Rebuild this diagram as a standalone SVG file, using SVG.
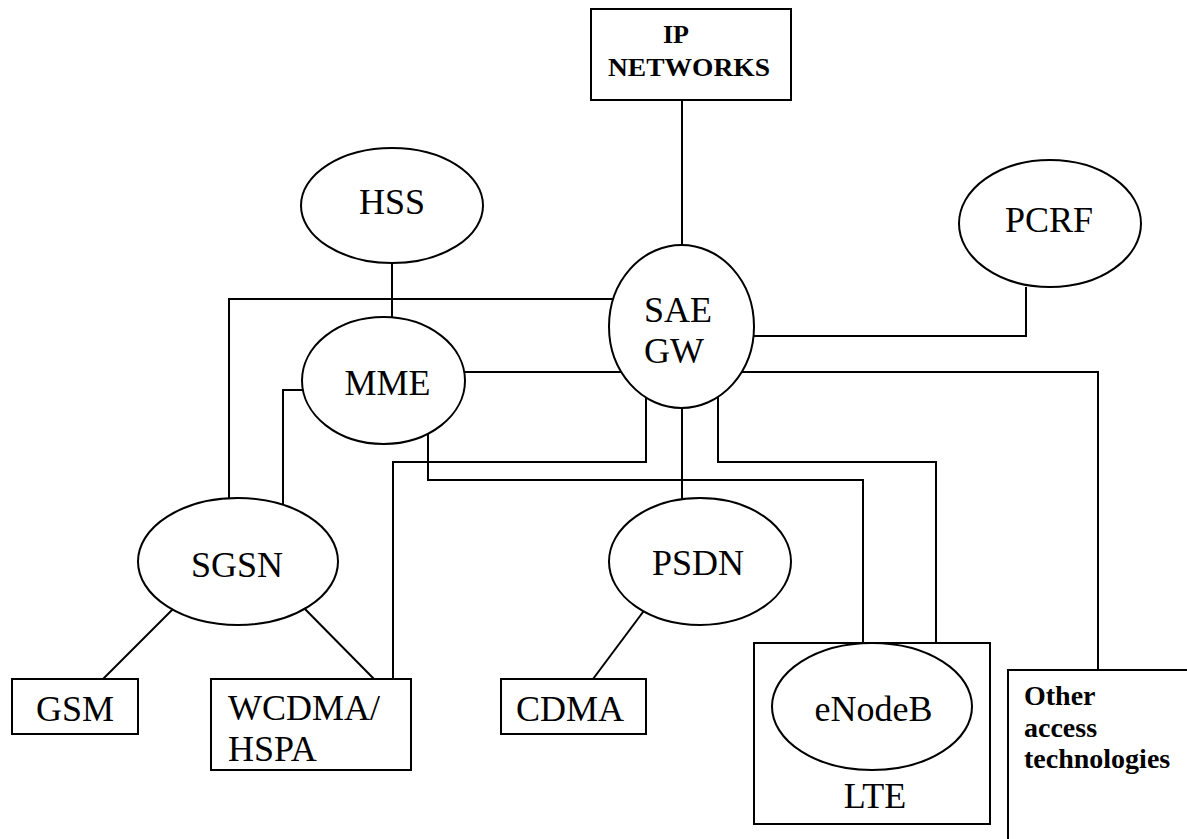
<svg xmlns="http://www.w3.org/2000/svg" width="1187" height="839" viewBox="0 0 1187 839">
<style>
.s{fill:#fff;stroke:#000;stroke-width:2}
.c{fill:none;stroke:#000;stroke-width:2}
.t{font-family:"Liberation Serif","Times New Roman",serif;font-size:36px;fill:#000}
.b{font-family:"Liberation Serif","Times New Roman",serif;font-size:28px;font-weight:bold;fill:#000}
</style>
<rect width="1187" height="839" fill="#fff"/>
<g id="connectors">
<line class="c" x1="682" y1="100" x2="682" y2="245"/>
<line class="c" x1="392" y1="263" x2="392" y2="317"/>
<polyline class="c" points="229,498 229,299 613,299"/>
<line class="c" x1="464" y1="372" x2="621" y2="372"/>
<polyline class="c" points="303,390 283,390 283,505"/>
<polyline class="c" points="754,336 1026,336 1026,287"/>
<polyline class="c" points="742,372 1098,372 1098,670"/>
<polyline class="c" points="428,434 428,480 863,480 863,643"/>
<polyline class="c" points="646,397 646,462 393,462 393,679"/>
<polyline class="c" points="718,397 718,462 936,462 936,643"/>
<line class="c" x1="682" y1="408" x2="682" y2="499"/>
<line class="c" x1="175" y1="607" x2="103" y2="679"/>
<line class="c" x1="303" y1="607" x2="374" y2="679"/>
<line class="c" x1="646" y1="608" x2="593" y2="679"/>
</g>
<g id="ip-networks">
<rect class="s" x="591" y="9" width="200" height="91"/>
<text class="b" x="663" y="43" style="font-size:26px">IP</text>
<text class="b" x="608" y="76" style="font-size:26px" textLength="162" lengthAdjust="spacingAndGlyphs">NETWORKS</text>
</g>
<g id="hss">
<ellipse class="s" cx="392" cy="205.5" rx="91" ry="57.5"/>
<text class="t" x="392" y="214" text-anchor="middle">HSS</text>
</g>
<g id="pcrf">
<ellipse class="s" cx="1050" cy="223.5" rx="91" ry="63.5"/>
<text class="t" x="1049" y="232" text-anchor="middle">PCRF</text>
</g>
<g id="sae-gw">
<ellipse class="s" cx="681.5" cy="326.5" rx="72.5" ry="81.5"/>
<text class="t" x="644" y="322">SAE</text>
<text class="t" x="644" y="363">GW</text>
</g>
<g id="mme">
<ellipse class="s" cx="383.5" cy="380.5" rx="81.5" ry="63.5"/>
<text class="t" x="387.5" y="395" text-anchor="middle">MME</text>
</g>
<g id="sgsn">
<ellipse class="s" cx="238" cy="561.5" rx="100" ry="63.5"/>
<text class="t" x="237" y="577" text-anchor="middle">SGSN</text>
</g>
<g id="psdn">
<ellipse class="s" cx="700" cy="561.5" rx="91" ry="63.5"/>
<text class="t" x="698" y="575" text-anchor="middle">PSDN</text>
</g>
<g id="gsm">
<rect class="s" x="12" y="679" width="126" height="55"/>
<text class="t" x="75" y="721" text-anchor="middle">GSM</text>
</g>
<g id="wcdma">
<rect class="s" x="211" y="679" width="200" height="91"/>
<text class="t" x="228" y="720">WCDMA/</text>
<text class="t" x="228" y="761">HSPA</text>
</g>
<g id="cdma">
<rect class="s" x="501" y="679" width="145" height="55"/>
<text class="t" x="570" y="721" text-anchor="middle">CDMA</text>
</g>
<g id="lte">
<rect class="s" x="754" y="643" width="236" height="181"/>
<ellipse class="s" cx="872" cy="706.5" rx="100" ry="63.5"/>
<text class="t" x="873.5" y="721" text-anchor="middle">eNodeB</text>
<text class="t" x="875" y="808" text-anchor="middle">LTE</text>
</g>
<g id="other-access">
<rect class="s" x="1008" y="670" width="220" height="220"/>
<text class="b" x="1024" y="705">Other</text>
<text class="b" x="1024" y="737">access</text>
<text class="b" x="1024" y="768">technologies</text>
</g>
</svg>
